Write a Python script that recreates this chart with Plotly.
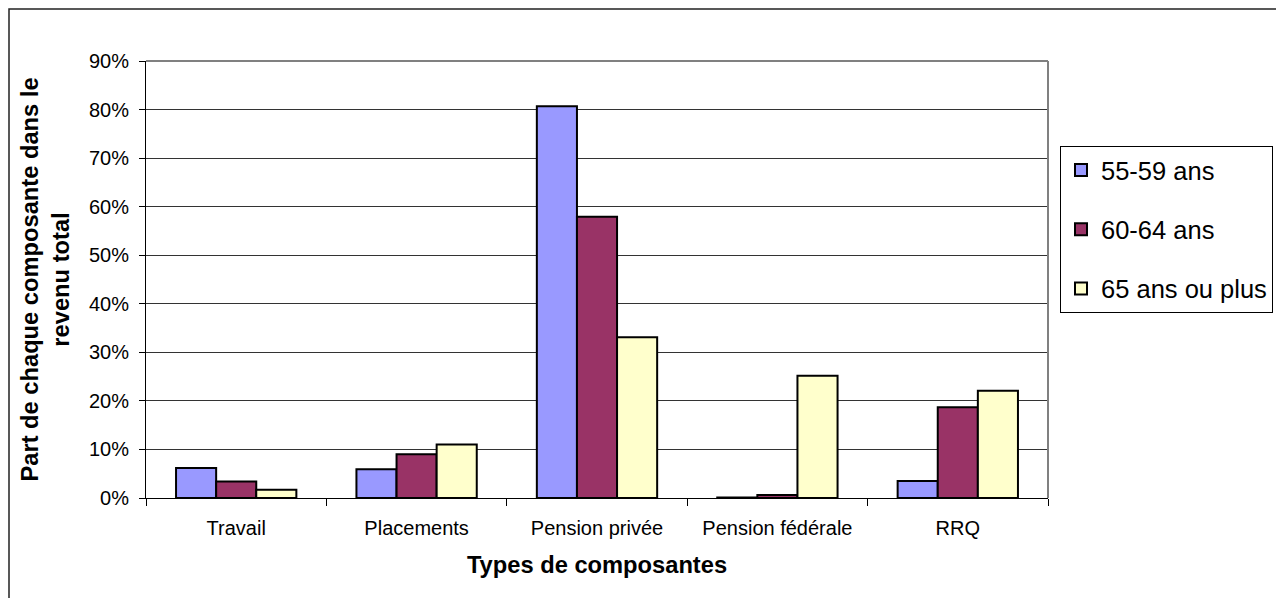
import plotly.graph_objects as go

categories = ["Travail", "Placements", "Pension privée", "Pension fédérale", "RRQ"]
series_names = ["55-59 ans", "60-64 ans", "65 ans ou plus"]
v_55_59 = [0.062, 0.059, 0.807, 0.001, 0.035]
v_60_64 = [0.034, 0.090, 0.579, 0.006, 0.187]
v_65_plus = [0.017, 0.110, 0.331, 0.252, 0.221]
colors = ["#9999FF", "#993366", "#FFFFCC"]
y_ticks = [0, 0.1, 0.2, 0.3, 0.4, 0.5, 0.6, 0.7, 0.8, 0.9]

W, H = 1276, 598
L, R, T, B = 146, 228, 61, 100
pw, ph = W - L - R, H - T - B

def px_x(p):
    return (p - L) / pw

def px_y(p):
    return (H - B - p) / ph

FONT = "Liberation Sans, Arial, sans-serif"

fig = go.Figure()
for i, (name, vals) in enumerate(zip(series_names, [v_55_59, v_60_64, v_65_plus])):
    fig.add_trace(go.Bar(
        x=categories, y=vals, name=name, legendgroup=name,
        marker=dict(color=colors[i], line=dict(color="black", width=2)),
    ))

fig.update_layout(
    width=W, height=H,
    margin=dict(l=L, r=R, t=T, b=B, autoexpand=False),
    paper_bgcolor="white", plot_bgcolor="white",
    barmode="group", bargap=0.333, bargroupgap=0,
    font=dict(family=FONT, color="black", size=20),
    showlegend=True,
    legend=dict(
        x=px_x(1060), y=px_y(146), xanchor="left", yanchor="top",
        bordercolor="black", borderwidth=1,
        font=dict(size=25.5, family=FONT),
        tracegroupgap=23, traceorder="grouped",
        bgcolor="white",
    ),
    xaxis=dict(
        type="category", tickson="boundaries", ticks="outside", ticklen=7,
        tickcolor="black", tickwidth=1, showline=True, linecolor="black", linewidth=1,
        ticklabelstandoff=12,
        tickfont=dict(size=20),
        title=dict(text="<b>Types de composantes</b>", font=dict(size=23.7), standoff=18),
    ),
    yaxis=dict(
        range=[0, 0.9], tickvals=y_ticks, tickformat=".0%",
        ticks="outside", ticklen=6, tickcolor="black", tickwidth=1,
        showline=True, linecolor="black", linewidth=1,
        showgrid=True, gridcolor="#333333", gridwidth=1,
        ticklabelstandoff=6,
        tickfont=dict(size=20),
        title=dict(text="<b>Part de chaque composante dans le<br>revenu total</b>",
                   font=dict(size=23.7), standoff=12),
        zeroline=False,
    ),
    shapes=[
        dict(type="line", xref="paper", yref="paper", x0=0, x1=1, y0=1, y1=1,
             line=dict(color="#808080", width=2), layer="above"),
        dict(type="line", xref="paper", yref="paper", x0=1, x1=1, y0=0, y1=1,
             line=dict(color="#808080", width=2), layer="above"),
        dict(type="rect", xref="paper", yref="paper",
             x0=px_x(9), x1=px_x(1300), y0=px_y(9), y1=px_y(620),
             line=dict(color="#222222", width=1.5), layer="below"),
    ],
)

fig.write_html(
    "out.html",
    config={"displayModeBar": False},
    post_script="document.body.style.margin='0';document.body.style.overflow='hidden';",
)
